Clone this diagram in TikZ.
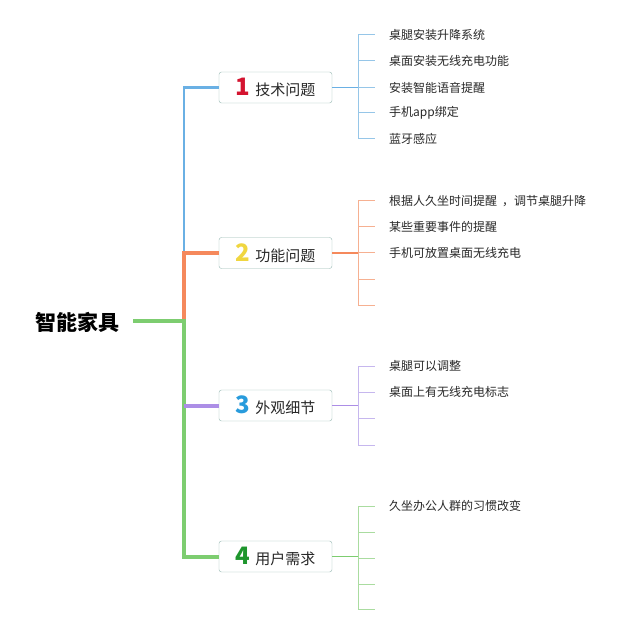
\documentclass[tikz,border=0pt]{standalone}
\usepackage{fontspec}
\setmainfont{Noto Sans CJK SC}
\usetikzlibrary{positioning}
\definecolor{mmblue}{RGB}{106,176,228}
\definecolor{mmbluelt}{RGB}{150,198,232}
\definecolor{mmorange}{RGB}{245,137,92}
\definecolor{mmorangelt}{RGB}{246,176,145}
\definecolor{mmpurple}{RGB}{172,142,230}
\definecolor{mmpurplelt}{RGB}{198,183,238}
\definecolor{mmgreen}{RGB}{125,205,112}
\definecolor{mmgreenlt}{RGB}{170,220,160}
\definecolor{mmframe}{RGB}{150,184,178}
\definecolor{mmtext}{RGB}{40,40,40}
\definecolor{numred}{RGB}{212,20,48}
\definecolor{numyellow}{RGB}{240,214,64}
\definecolor{numblue}{RGB}{40,155,220}
\definecolor{numgreen}{RGB}{30,150,45}
\newcommand{\topicnum}[2]{{\fontsize{24}{24}\selectfont\bfseries\color{#1}#2}\hspace{5pt}}

\begin{document}
\begin{tikzpicture}[x=1pt,y=-1pt,
  topic/.style={draw=mmframe,fill=white,rounded corners=2.5pt,minimum width=113pt,minimum height=31pt,inner sep=0pt,font=\fontsize{15}{15}\selectfont,text=mmtext},
  leaf/.style={anchor=west,inner sep=0pt,font=\fontsize{12}{12}\selectfont,text=mmtext},
  trunk/.style={line width=4pt},
  link/.style={line width=1.4pt},
  tick/.style={line width=1pt}]
\useasboundingbox (0,0) rectangle (640,631);
% Root
\node[inner sep=0pt,font=\fontsize{21}{21}\selectfont\bfseries,text=black] (root) at (77,322) {智能家具};
% Topic boxes
\node[topic] (t1) at (275.5,87.5) {\topicnum{numred}{1}技术问题};
\node[topic] (t2) at (275.5,253) {\topicnum{numyellow}{2}功能问题};
\node[topic] (t3) at (275.5,405.5) {\topicnum{numblue}{3}外观细节};
\node[topic] (t4) at (275.5,556.5) {\topicnum{numgreen}{4}用户需求};
% Trunk
\coordinate (j) at (184,321);
\draw[trunk,mmblue,line width=2.6pt] (t1.west) -- (t1.west -| j) -- (t2.west -| j);
\draw[trunk,mmorange] (t2.west) -- (t2.west -| j) -- (j);
\draw[trunk,mmgreen] ([xshift=14pt]root.east |- j) -- (j) -- (t4.west -| j) -- (t4.west);
\draw[trunk,mmpurple] (t3.west) -- (t3.west -| j);
% Branch 1
\coordinate (b1) at (358,0);
\foreach \k/\y/\txt in {1/35/桌腿安装升降系统,2/61/桌面安装无线充电功能,3/87.5/安装智能语音提醒,4/113/手机app绑定,5/139/蓝牙感应}{
  \coordinate (s1\k) at (375,\y);
  \node[leaf] (l1\k) at (389,\y) {\txt};
  \draw[tick,mmbluelt] (s1\k -| b1) -- (s1\k);
}
\draw[tick,mmbluelt] (s11 -| b1) -- (s15 -| b1);
\draw[link,mmblue] (t1.east) -- (t1.east -| b1);
% Branch 2
\foreach \k/\y/\txt in {1/201/根据人久坐时间提醒\hspace{5pt}，调节桌腿升降,2/227/某些重要事件的提醒,3/253/手机可放置桌面无线充电,4/279/{},5/305/{}}{
  \coordinate (s2\k) at (375,\y);
  \node[leaf] (l2\k) at (389,\y) {\txt};
  \draw[tick,mmorangelt] (s2\k -| b1) -- (s2\k);
}
\draw[tick,mmorangelt] (s21 -| b1) -- (s25 -| b1);
\draw[link,mmorange] (t2.east) -- (t2.east -| b1);
% Branch 3
\foreach \k/\y/\txt in {1/366/桌腿可以调整,2/392/桌面上有无线充电标志,3/418/{},4/445/{}}{
  \coordinate (s3\k) at (375,\y);
  \node[leaf] (l3\k) at (389,\y) {\txt};
  \draw[tick,mmpurplelt] (s3\k -| b1) -- (s3\k);
}
\draw[tick,mmpurplelt] (s31 -| b1) -- (s34 -| b1);
\draw[link,mmpurple] (t3.east) -- (t3.east -| b1);
% Branch 4
\foreach \k/\y/\txt in {1/506/久坐办公人群的习惯改变,2/532/{},3/558/{},4/584/{},5/609/{}}{
  \coordinate (s4\k) at (375,\y);
  \node[leaf] (l4\k) at (389,\y) {\txt};
  \draw[tick,mmgreenlt] (s4\k -| b1) -- (s4\k);
}
\draw[tick,mmgreenlt] (s41 -| b1) -- (s45 -| b1);
\draw[link,mmgreen] (t4.east) -- (t4.east -| b1);
\end{tikzpicture}
\end{document}
